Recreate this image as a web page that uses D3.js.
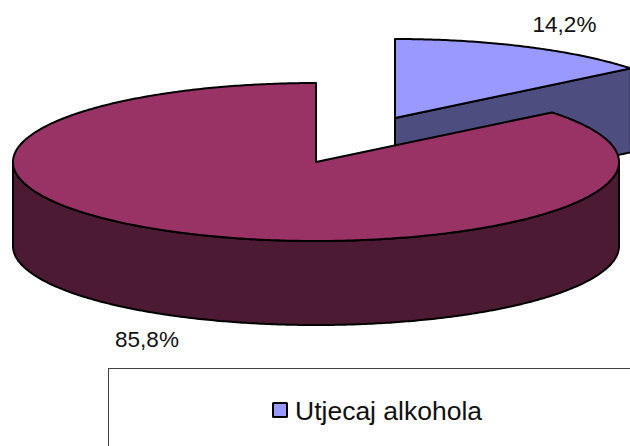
<!DOCTYPE html>
<html><head><meta charset="utf-8">
<script src="https://cdn.jsdelivr.net/npm/d3@7/dist/d3.min.js"></script>
<style>html,body{margin:0;padding:0;background:#fff;overflow:hidden}text{font-family:"Liberation Sans",Arial,sans-serif;fill:#111}</style>
</head><body><svg id="c" width="630" height="446"></svg>
<script>
const sliceNames = ["Utjecaj alkohola", "Ostalo"];
const sliceValues = [14.2, 85.8];
const sliceLabels = ["14,2%", "85,8%"];
const topColors = ["#9999FF", "#993366"];
const sideColors = ["#4D4D80", "#4D1A33"];
const legendNames = ["Utjecaj alkohola"];

const svg = d3.select("#c");
const RX = 303, RY = 79, DEPTH = 84;
const centers = [[395, 118], [316, 162]];
const xUnit = d3.scaleLinear().domain([-1, 1]).range([-RX, RX]);
const yUnit = d3.scaleLinear().domain([-1, 1]).range([-RY, RY]);
const pie = d3.pie().sort(null).value(d => d);
const arcs = pie(sliceValues);
const line = d3.line();

function pt(c, a, dy = 0) {
  return [c[0] + xUnit(Math.sin(a)), c[1] + yUnit(-Math.cos(a)) + dy];
}
function arcPts(c, a0, a1, dy = 0) {
  const n = Math.max(8, Math.ceil(Math.abs(a1 - a0) / 0.01));
  return d3.range(n + 1).map(i => pt(c, a0 + (a1 - a0) * i / n, dy));
}
const stroke = g => g.attr("stroke", "#000").attr("stroke-width", 2).attr("stroke-linejoin", "round");

// small slice: cut wall, then top
{
  const c = centers[0], a = arcs[0], e = pt(c, a.endAngle);
  svg.append("path").attr("fill", sideColors[0]).call(stroke)
    .attr("d", line([c, e, [e[0], e[1] + DEPTH], [c[0], c[1] + DEPTH]]) + "Z");
  svg.append("path").attr("fill", topColors[0]).call(stroke)
    .attr("d", line([c, ...arcPts(c, a.startAngle, a.endAngle)]) + "Z");
}
// large slice: rim wall, then top
{
  const c = centers[1], a = arcs[1];
  const wallTop = arcPts(c, Math.PI / 2, Math.PI * 1.5);
  const wallBot = arcPts(c, Math.PI * 1.5, Math.PI / 2, DEPTH);
  svg.append("path").attr("fill", sideColors[1]).call(stroke)
    .attr("d", line([...wallTop, ...wallBot]) + "Z");
  svg.append("path").attr("fill", topColors[1]).call(stroke)
    .attr("d", line([c, ...arcPts(c, a.startAngle, a.endAngle)]) + "Z");
}
// value labels
const labelPos = [[564.5, 32], [147, 347]];
sliceLabels.forEach((t, i) => svg.append("text").attr("x", labelPos[i][0]).attr("y", labelPos[i][1])
  .attr("text-anchor", "middle").attr("font-size", 22.5).text(t));

// legend
svg.append("rect").attr("x", 108.5).attr("y", 368.5).attr("width", 560).attr("height", 120)
  .attr("fill", "#fff").attr("stroke", "#404040").attr("stroke-width", 1);
svg.append("rect").attr("x", 273).attr("y", 403).attr("width", 14).attr("height", 14)
  .attr("fill", topColors[0]).attr("stroke", "#000").attr("stroke-width", 2).attr("rx", 0.5);
svg.append("text").attr("x", 295).attr("y", 420).attr("font-size", 26.5).text(legendNames[0]);
</script></body></html>
